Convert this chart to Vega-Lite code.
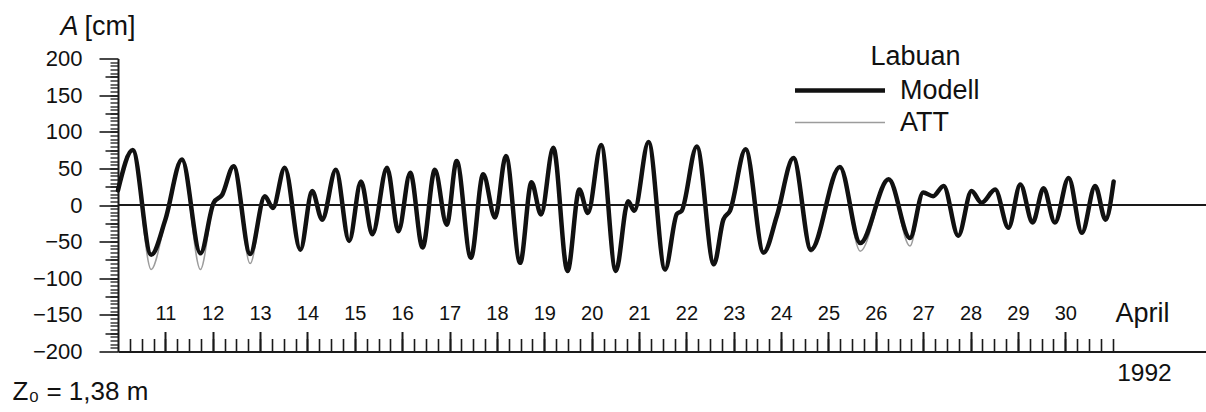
{
  "$schema": "https://vega.github.io/schema/vega-lite/v6.json",
  "width": 1088,
  "height": 293,
  "autosize": {"type": "none"},
  "padding": {"left": 118, "top": 58.5, "right": 0, "bottom": 60.5},
  "background": "white",
  "config": {
    "view": {"stroke": null},
    "font": "Liberation Sans",
    "axis": {"grid": false, "labelFont": "Liberation Sans", "titleFont": "Liberation Sans", "labelColor": "#111111", "titleColor": "#111111", "tickColor": "#1a1a1a", "domainColor": "#1a1a1a", "titleFontWeight": "normal", "labelFontWeight": "normal"}
  },
  "datasets": {
    "tide": [
      {"day": 10.00, "A": 20, "series": "Modell"}, {"day": 10.31, "A": 75, "series": "Modell"}, {"day": 10.70, "A": -68, "series": "Modell"}, {"day": 11.00, "A": -20, "series": "Modell"}, {"day": 11.35, "A": 62, "series": "Modell"}, {"day": 11.74, "A": -66, "series": "Modell"}, {"day": 12.02, "A": 3, "series": "Modell"}, {"day": 12.20, "A": 14, "series": "Modell"}, {"day": 12.44, "A": 53, "series": "Modell"}, {"day": 12.79, "A": -67, "series": "Modell"}, {"day": 13.10, "A": 12, "series": "Modell"}, {"day": 13.27, "A": -4, "series": "Modell"}, {"day": 13.52, "A": 51, "series": "Modell"}, {"day": 13.85, "A": -61, "series": "Modell"}, {"day": 14.10, "A": 19, "series": "Modell"}, {"day": 14.31, "A": -20, "series": "Modell"}, {"day": 14.60, "A": 48, "series": "Modell"}, {"day": 14.88, "A": -49, "series": "Modell"}, {"day": 15.13, "A": 32, "series": "Modell"}, {"day": 15.37, "A": -40, "series": "Modell"}, {"day": 15.68, "A": 51, "series": "Modell"}, {"day": 15.92, "A": -36, "series": "Modell"}, {"day": 16.17, "A": 44, "series": "Modell"}, {"day": 16.43, "A": -58, "series": "Modell"}, {"day": 16.69, "A": 48, "series": "Modell"}, {"day": 16.94, "A": -27, "series": "Modell"}, {"day": 17.15, "A": 60, "series": "Modell"}, {"day": 17.45, "A": -72, "series": "Modell"}, {"day": 17.71, "A": 42, "series": "Modell"}, {"day": 17.96, "A": -17, "series": "Modell"}, {"day": 18.19, "A": 67, "series": "Modell"}, {"day": 18.49, "A": -79, "series": "Modell"}, {"day": 18.73, "A": 31, "series": "Modell"}, {"day": 18.93, "A": -13, "series": "Modell"}, {"day": 19.19, "A": 78, "series": "Modell"}, {"day": 19.49, "A": -90, "series": "Modell"}, {"day": 19.74, "A": 21, "series": "Modell"}, {"day": 19.92, "A": -11, "series": "Modell"}, {"day": 20.20, "A": 82, "series": "Modell"}, {"day": 20.51, "A": -90, "series": "Modell"}, {"day": 20.77, "A": 5, "series": "Modell"}, {"day": 20.90, "A": -8, "series": "Modell"}, {"day": 21.20, "A": 86, "series": "Modell"}, {"day": 21.55, "A": -88, "series": "Modell"}, {"day": 21.80, "A": -12, "series": "Modell"}, {"day": 21.90, "A": -8, "series": "Modell"}, {"day": 22.22, "A": 80, "series": "Modell"}, {"day": 22.58, "A": -81, "series": "Modell"}, {"day": 22.78, "A": -20, "series": "Modell"}, {"day": 22.92, "A": -8, "series": "Modell"}, {"day": 23.25, "A": 76, "series": "Modell"}, {"day": 23.63, "A": -65, "series": "Modell"}, {"day": 23.91, "A": -15, "series": "Modell"}, {"day": 24.26, "A": 64, "series": "Modell"}, {"day": 24.63, "A": -61, "series": "Modell"}, {"day": 25.24, "A": 52, "series": "Modell"}, {"day": 25.67, "A": -52, "series": "Modell"}, {"day": 26.27, "A": 35, "series": "Modell"}, {"day": 26.72, "A": -45, "series": "Modell"}, {"day": 27.00, "A": 17, "series": "Modell"}, {"day": 27.21, "A": 12, "series": "Modell"}, {"day": 27.43, "A": 26, "series": "Modell"}, {"day": 27.74, "A": -42, "series": "Modell"}, {"day": 28.02, "A": 19, "series": "Modell"}, {"day": 28.23, "A": 3, "series": "Modell"}, {"day": 28.52, "A": 21, "series": "Modell"}, {"day": 28.80, "A": -31, "series": "Modell"}, {"day": 29.05, "A": 28, "series": "Modell"}, {"day": 29.31, "A": -24, "series": "Modell"}, {"day": 29.54, "A": 23, "series": "Modell"}, {"day": 29.78, "A": -24, "series": "Modell"}, {"day": 30.07, "A": 37, "series": "Modell"}, {"day": 30.35, "A": -38, "series": "Modell"}, {"day": 30.63, "A": 26, "series": "Modell"}, {"day": 30.85, "A": -20, "series": "Modell"}, {"day": 31.02, "A": 32, "series": "Modell"},
      {"day": 10.00, "A": 18, "series": "ATT"}, {"day": 10.31, "A": 73, "series": "ATT"}, {"day": 10.70, "A": -88, "series": "ATT"}, {"day": 11.00, "A": -22, "series": "ATT"}, {"day": 11.35, "A": 60, "series": "ATT"}, {"day": 11.74, "A": -88, "series": "ATT"}, {"day": 12.02, "A": 1, "series": "ATT"}, {"day": 12.20, "A": 13, "series": "ATT"}, {"day": 12.44, "A": 52, "series": "ATT"}, {"day": 12.79, "A": -80, "series": "ATT"}, {"day": 13.10, "A": 11, "series": "ATT"}, {"day": 13.27, "A": -5, "series": "ATT"}, {"day": 13.52, "A": 50, "series": "ATT"}, {"day": 13.85, "A": -63, "series": "ATT"}, {"day": 14.10, "A": 18, "series": "ATT"}, {"day": 14.31, "A": -21, "series": "ATT"}, {"day": 14.60, "A": 47, "series": "ATT"}, {"day": 14.88, "A": -51, "series": "ATT"}, {"day": 15.13, "A": 31, "series": "ATT"}, {"day": 15.37, "A": -41, "series": "ATT"}, {"day": 15.68, "A": 50, "series": "ATT"}, {"day": 15.92, "A": -37, "series": "ATT"}, {"day": 16.17, "A": 43, "series": "ATT"}, {"day": 16.43, "A": -59, "series": "ATT"}, {"day": 16.69, "A": 47, "series": "ATT"}, {"day": 16.94, "A": -28, "series": "ATT"}, {"day": 17.15, "A": 59, "series": "ATT"}, {"day": 17.45, "A": -74, "series": "ATT"}, {"day": 17.71, "A": 41, "series": "ATT"}, {"day": 17.96, "A": -18, "series": "ATT"}, {"day": 18.19, "A": 66, "series": "ATT"}, {"day": 18.49, "A": -81, "series": "ATT"}, {"day": 18.73, "A": 30, "series": "ATT"}, {"day": 18.93, "A": -14, "series": "ATT"}, {"day": 19.19, "A": 77, "series": "ATT"}, {"day": 19.49, "A": -92, "series": "ATT"}, {"day": 19.74, "A": 20, "series": "ATT"}, {"day": 19.92, "A": -12, "series": "ATT"}, {"day": 20.20, "A": 81, "series": "ATT"}, {"day": 20.51, "A": -92, "series": "ATT"}, {"day": 20.77, "A": 4, "series": "ATT"}, {"day": 20.90, "A": -9, "series": "ATT"}, {"day": 21.20, "A": 85, "series": "ATT"}, {"day": 21.55, "A": -90, "series": "ATT"}, {"day": 21.80, "A": -13, "series": "ATT"}, {"day": 21.90, "A": -9, "series": "ATT"}, {"day": 22.22, "A": 79, "series": "ATT"}, {"day": 22.58, "A": -83, "series": "ATT"}, {"day": 22.78, "A": -21, "series": "ATT"}, {"day": 22.92, "A": -9, "series": "ATT"}, {"day": 23.25, "A": 75, "series": "ATT"}, {"day": 23.63, "A": -67, "series": "ATT"}, {"day": 23.91, "A": -16, "series": "ATT"}, {"day": 24.26, "A": 63, "series": "ATT"}, {"day": 24.63, "A": -64, "series": "ATT"}, {"day": 25.24, "A": 51, "series": "ATT"}, {"day": 25.67, "A": -63, "series": "ATT"}, {"day": 26.27, "A": 34, "series": "ATT"}, {"day": 26.72, "A": -56, "series": "ATT"}, {"day": 27.00, "A": 16, "series": "ATT"}, {"day": 27.21, "A": 11, "series": "ATT"}, {"day": 27.43, "A": 25, "series": "ATT"}, {"day": 27.74, "A": -44, "series": "ATT"}, {"day": 28.02, "A": 18, "series": "ATT"}, {"day": 28.23, "A": 2, "series": "ATT"}, {"day": 28.52, "A": 20, "series": "ATT"}, {"day": 28.80, "A": -33, "series": "ATT"}, {"day": 29.05, "A": 27, "series": "ATT"}, {"day": 29.31, "A": -25, "series": "ATT"}, {"day": 29.54, "A": 22, "series": "ATT"}, {"day": 29.78, "A": -25, "series": "ATT"}, {"day": 30.07, "A": 36, "series": "ATT"}, {"day": 30.35, "A": -40, "series": "ATT"}, {"day": 30.63, "A": 25, "series": "ATT"}, {"day": 30.85, "A": -21, "series": "ATT"}, {"day": 31.02, "A": 31, "series": "ATT"}
    ]
  },
  "layer": [
    {
      "data": {"name": "tide"},
      "transform": [{"filter": "datum.series === 'ATT'"}],
      "mark": {"type": "line", "interpolate": "monotone", "strokeJoin": "round"},
      "encoding": {
        "x": {"field": "day", "type": "quantitative", "scale": {"domain": [10, 32.97], "nice": false, "zero": false},
          "axis": {"orient": "bottom", "values": [10.25,10.5,10.75,11,11.25,11.5,11.75,12,12.25,12.5,12.75,13,13.25,13.5,13.75,14,14.25,14.5,14.75,15,15.25,15.5,15.75,16,16.25,16.5,16.75,17,17.25,17.5,17.75,18,18.25,18.5,18.75,19,19.25,19.5,19.75,20,20.25,20.5,20.75,21,21.25,21.5,21.75,22,22.25,22.5,22.75,23,23.25,23.5,23.75,24,24.25,24.5,24.75,25,25.25,25.5,25.75,26,26.25,26.5,26.75,27,27.25,27.5,27.75,28,28.25,28.5,28.75,29,29.25,29.5,29.75,30,30.25,30.5,30.75,31],
            "labels": false, "tickSize": -13, "tickWidth": 1.6, "domain": false,
            "title": "1992", "titleX": 998.7, "titleY": 21.5, "titleAlign": "left", "titleBaseline": "middle", "titleAngle": 0, "titleFontSize": 24.5}},
        "y": {"field": "A", "type": "quantitative", "scale": {"domain": [-200, 200], "nice": false, "zero": false},
          "axis": {"orient": "left", "values": [-195,-190,-185,-180,-175,-170,-165,-160,-155,-150,-145,-140,-135,-130,-125,-120,-115,-110,-105,-100,-95,-90,-85,-80,-75,-70,-65,-60,-55,-50,-45,-40,-35,-30,-25,-20,-15,-10,-5,0,5,10,15,20,25,30,35,40,45,50,55,60,65,70,75,80,85,90,95,100,105,110,115,120,125,130,135,140,145,150,155,160,165,170,175,180,185,190,195],
            "labels": false, "tickSize": 8, "tickWidth": 1.3, "domain": false,
            "title": "Z₀ = 1,38 m", "titleAngle": 0, "titleX": -106, "titleY": 333, "titleAlign": "left", "titleBaseline": "middle", "titleFontSize": 26}},
        "color": {"field": "series", "type": "nominal", "scale": {"domain": ["Modell", "ATT"], "range": ["#111111", "#9c9c9c"]},
          "legend": {"orient": "none", "legendX": 708.5, "legendY": 18.5, "title": null, "symbolType": "M-10,0H10", "symbolSize": 81, "labelFontSize": 27, "labelFont": "Liberation Sans", "labelColor": "#111111", "labelOffset": 46.5, "rowPadding": 4, "padding": 0, "labelBaseline": "middle"}},
        "strokeWidth": {"field": "series", "type": "nominal", "scale": {"domain": ["Modell", "ATT"], "range": [4.5, 1.5]},
          "legend": {"orient": "none", "legendX": 708.5, "legendY": 18.5, "title": null, "symbolType": "M-10,0H10", "symbolSize": 81, "labelFontSize": 27, "labelFont": "Liberation Sans", "labelColor": "#111111", "labelOffset": 46.5, "rowPadding": 4, "padding": 0, "labelBaseline": "middle"}}
      }
    },
    {
      "data": {"name": "tide"},
      "transform": [{"filter": "datum.series === 'Modell'"}],
      "mark": {"type": "line", "interpolate": "monotone", "strokeJoin": "round", "strokeCap": "round"},
      "encoding": {
        "x": {"field": "day", "type": "quantitative", "scale": {"domain": [10, 32.97], "nice": false, "zero": false},
          "axis": {"orient": "bottom", "values": [11,12,13,14,15,16,17,18,19,20,21,22,23,24,25,26,27,28,29,30],
            "tickSize": -20, "tickWidth": 2, "domain": true, "domainWidth": 2, "labelFontSize": 20, "labelPadding": -18, "labelBaseline": "middle", "labelAlign": "center", "labelFlush": false, "labelOverlap": false,
            "title": "April", "titleX": 997, "titleY": -38, "titleAlign": "left", "titleBaseline": "middle", "titleAngle": 0, "titleFontSize": 27}},
        "y": {"field": "A", "type": "quantitative", "scale": {"domain": [-200, 200], "nice": false, "zero": false},
          "axis": {"orient": "left", "values": [-200,-150,-100,-50,0,50,100,150,200],
            "tickSize": 19, "tickWidth": 1.6, "domain": true, "domainWidth": 2, "labelFontSize": 22, "labelPadding": 17, "labelOverlap": false, "labelFlush": false,
            "title": "A", "titleFontStyle": "italic", "titleAngle": 0, "titleX": -58, "titleY": -32, "titleAlign": "left", "titleBaseline": "middle", "titleFontSize": 27}},
        "color": {"field": "series", "type": "nominal", "scale": {"domain": ["Modell", "ATT"], "range": ["#111111", "#9c9c9c"]},
          "legend": {"orient": "none", "legendX": 708.5, "legendY": 18.5, "title": null, "symbolType": "M-10,0H10", "symbolSize": 81, "labelFontSize": 27, "labelFont": "Liberation Sans", "labelColor": "#111111", "labelOffset": 46.5, "rowPadding": 4, "padding": 0, "labelBaseline": "middle"}},
        "strokeWidth": {"field": "series", "type": "nominal", "scale": {"domain": ["Modell", "ATT"], "range": [4.5, 1.5]},
          "legend": {"orient": "none", "legendX": 708.5, "legendY": 18.5, "title": null, "symbolType": "M-10,0H10", "symbolSize": 81, "labelFontSize": 27, "labelFont": "Liberation Sans", "labelColor": "#111111", "labelOffset": 46.5, "rowPadding": 4, "padding": 0, "labelBaseline": "middle"}}
      }
    },
    {
      "data": {"values": [{}]},
      "mark": {"type": "rule", "color": "#1a1a1a", "strokeWidth": 2},
      "encoding": {
        "x": {"datum": 10, "type": "quantitative", "scale": {"domain": [10, 32.97], "nice": false, "zero": false},
          "axis": {"orient": "bottom", "ticks": false, "labels": false, "domain": false,
            "title": "Labuan", "titleX": 752, "titleY": -295, "titleAlign": "left", "titleBaseline": "middle", "titleAngle": 0, "titleFontSize": 27}},
        "x2": {"datum": 32.97},
        "y": {"datum": 0, "type": "quantitative", "scale": {"domain": [-200, 200], "nice": false, "zero": false},
          "axis": {"orient": "left", "values": [-175,-125,-75,-25,25,75,125,175], "labels": false, "tickSize": 13, "tickWidth": 1.5, "domain": false,
            "title": "[cm]", "titleAngle": 0, "titleX": -34, "titleY": -32, "titleAlign": "left", "titleBaseline": "middle", "titleFontSize": 27}}
      }
    }
  ],
  "resolve": {"axis": {"x": "independent", "y": "independent"}}
}
